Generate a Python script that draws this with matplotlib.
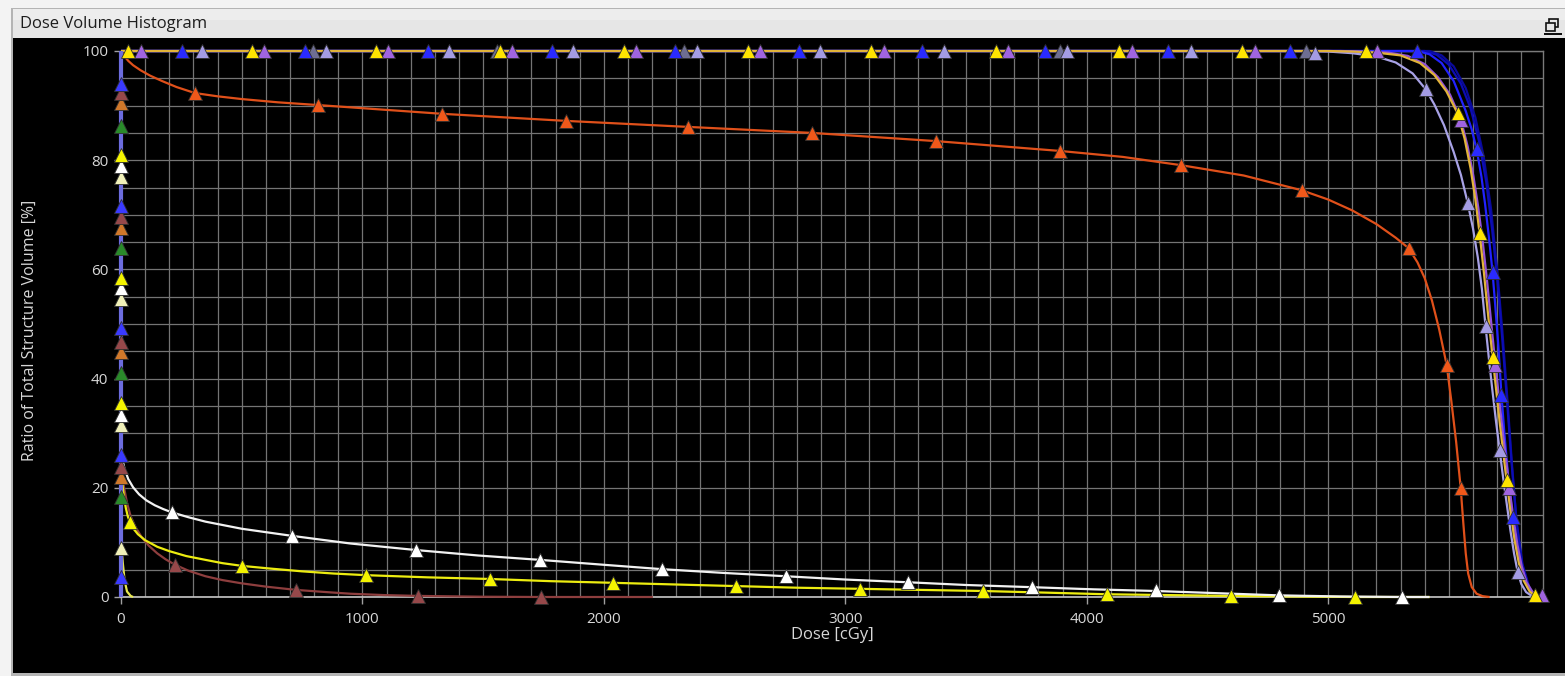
import matplotlib
matplotlib.use("Agg")
import matplotlib.pyplot as plt
from matplotlib.patches import Rectangle
from matplotlib.ticker import MultipleLocator

# ---------------- data (dose in cGy, volume in %) ----------------
x_ticks = [0, 1000, 2000, 3000, 4000, 5000]
y_ticks = [0, 20, 40, 60, 80, 100]

orange_dose = [0, 5, 15, 30, 50, 80, 120, 170, 230, 306, 400, 500, 650, 816, 1329, 1843,
               2348, 2861, 3375, 3888, 4150, 4389, 4650, 4890, 5000, 5100, 5200, 5280,
               5333, 5370, 5400, 5430, 5460, 5491, 5510, 5530, 5549, 5560, 5570, 5580,
               5595, 5615, 5640, 5669]
orange_vol = [100, 99.6, 99.0, 98.2, 97.4, 96.5, 95.5, 94.5, 93.4, 92.3, 91.7, 91.2, 90.6,
              90.1, 88.5, 87.2, 86.1, 85.0, 83.5, 81.7, 80.6, 79.1, 77.2, 74.5, 72.8, 70.8,
              68.3, 65.8, 63.9, 61.3, 58.4, 54.3, 49.0, 42.5, 36.0, 28.5, 20.0, 13.5, 8.0,
              4.3, 1.8, 0.6, 0.15, 0]
orange_mk_dose = [306, 816, 1329, 1843, 2348, 2861, 3375, 3888, 4389, 4890, 5333, 5491, 5549]
orange_mk_vol = [92.3, 90.1, 88.5, 87.2, 86.1, 85.0, 83.5, 81.7, 79.1, 74.5, 63.9, 42.5, 20.0]

gold_dose = [0, 5000, 5100, 5200, 5300, 5380, 5440, 5490, 5536, 5565, 5590, 5610, 5627,
             5645, 5663, 5681, 5697, 5712, 5726, 5739, 5755, 5772, 5790, 5810, 5835,
             5855, 5870]
gold_vol = [100, 100, 99.9, 99.7, 99.2, 97.8, 95.6, 92.6, 88.6, 84.0, 78.5, 72.8, 66.7,
            59.5, 51.5, 44.0, 37.5, 31.5, 26.2, 21.4, 15.8, 10.5, 6.2, 3.0, 1.0, 0.3, 0]
gold_mk_dose = [29, 543, 1056, 1570, 2083, 2597, 3106, 3623, 4133, 4642, 5155,
                5536, 5627, 5681, 5739, 5855]
gold_mk_vol = [100, 100, 100, 100, 100, 100, 100, 100, 100, 100, 100,
               88.6, 66.7, 44.0, 21.4, 0.4]

purple_dose = [0, 5050, 5150, 5250, 5330, 5400, 5455, 5505, 5550, 5578, 5602, 5622,
               5640, 5658, 5676, 5693, 5709, 5724, 5738, 5751, 5767, 5784, 5802, 5822,
               5847, 5867, 5884]
purple_vol = [100, 100, 99.9, 99.7, 99.1, 97.6, 95.2, 92.0, 87.4, 82.5, 77.0, 71.3, 65.2,
              58.0, 50.0, 42.5, 36.0, 30.0, 24.8, 20.0, 14.6, 9.6, 5.6, 2.7, 0.9, 0.3, 0]
purple_mk_dose = [83, 592, 1106, 1619, 2133, 2646, 3160, 3673, 4186, 4696, 5201,
                  5550, 5693, 5751, 5884]
purple_mk_vol = [100, 100, 100, 100, 100, 100, 100, 100, 100, 100, 100,
                 87.4, 42.5, 20.0, 0.4]

lavender_dose = [0, 4900, 5000, 5100, 5200, 5280, 5350, 5404, 5440, 5480, 5520, 5550,
                 5578, 5600, 5620, 5637, 5652, 5667, 5680, 5695, 5710, 5725, 5740, 5755,
                 5770, 5785, 5800, 5820, 5850]
lavender_vol = [100, 100, 99.9, 99.6, 99.0, 97.9, 95.9, 93.0, 90.2, 86.4, 81.5, 77.3,
                72.2, 67.5, 62.2, 56.4, 49.6, 43.2, 38.0, 32.3, 27.0, 21.8, 17.0, 12.2,
                8.0, 4.6, 2.4, 0.9, 0]
lavender_mk_dose = [335, 849, 1358, 1872, 2385, 2894, 3408, 3917, 4431, 4944,
                    5404, 5578, 5652, 5710, 5785]
lavender_mk_vol = [100, 100, 100, 100, 100, 100, 100, 100, 100, 99.6,
                   93.0, 72.2, 49.6, 27.0, 4.6]

blue_dose = [0, 5370, 5420, 5470, 5520, 5570, 5595, 5615, 5635, 5650, 5667, 5681, 5692,
             5705, 5718, 5730, 5745, 5764, 5780, 5800, 5825, 5850, 5870]
blue_vol = [100, 100, 99.4, 97.8, 94.5, 89.0, 85.6, 82.0, 77.0, 72.0, 65.5, 59.5, 53.5,
            46.0, 37.0, 30.0, 22.5, 14.6, 9.5, 5.0, 1.8, 0.3, 0]
blue_mk_dose = [253, 762, 1271, 1785, 2294, 2807, 3317, 3826, 4336, 4841,
                5370, 5615, 5681, 5718, 5764]
blue_mk_vol = [100, 100, 100, 100, 100, 100, 100, 100, 100, 100,
               100, 82.0, 59.5, 37.0, 14.6]

navy1_dose = [0, 5400, 5450, 5500, 5550, 5590, 5625, 5655, 5680, 5700, 5720, 5740, 5760,
              5780, 5805, 5835, 5865]
navy1_vol = [100, 100, 99.3, 97.5, 94.0, 89.5, 83.5, 76.0, 67.0, 58.5, 48.0, 36.5, 24.5,
             14.0, 6.0, 1.5, 0]
navy2_dose = [0, 5420, 5470, 5520, 5570, 5610, 5645, 5675, 5700, 5722, 5742, 5762, 5782,
              5805, 5830, 5860]
navy2_vol = [100, 100, 99.2, 97.2, 93.2, 87.8, 80.5, 71.0, 60.0, 48.5, 36.5, 24.0, 13.0,
             5.5, 1.5, 0]

gray_mk_dose = [795, 1557, 2331, 3888, 4907]
gray_mk_vol = [100, 100, 100, 100, 100]

white_dose = [0, 0, 5, 15, 30, 50, 75, 105, 140, 175, 211, 280, 350, 500, 708, 950, 1222,
              1480, 1735, 2000, 2240, 2500, 2754, 3000, 3259, 3500, 3772, 4030, 4286,
              4540, 4795, 5050, 5308, 5420]
white_vol = [100, 27.0, 25.3, 23.4, 21.6, 20.1, 18.8, 17.7, 16.8, 16.1, 15.5, 14.6, 13.8,
             12.5, 11.2, 9.8, 8.6, 7.6, 6.8, 5.9, 5.1, 4.4, 3.8, 3.2, 2.7, 2.2, 1.8, 1.4,
             1.1, 0.7, 0.3, 0.1, 0, 0]
white_mk_dose = [0, 0, 0, 211, 708, 1222, 1735, 2240, 2754, 3259, 3772, 4286, 4795, 5308]
white_mk_vol = [78.9, 56.6, 33.3, 15.5, 11.2, 8.6, 6.8, 5.1, 3.8, 2.7, 1.8, 1.2, 0.3, 0]

yellow_dose = [0, 0, 5, 12, 20, 28, 37, 50, 70, 100, 150, 200, 270, 350, 420, 501, 620,
               750, 880, 1014, 1270, 1528, 1780, 2037, 2290, 2547, 2800, 3060, 3310, 3569,
               3830, 4083, 4340, 4596, 4850, 5110, 5420]
yellow_vol = [100, 24.0, 21.0, 18.3, 16.3, 14.8, 13.7, 12.6, 11.5, 10.4, 9.2, 8.4, 7.5,
              6.8, 6.2, 5.7, 5.2, 4.7, 4.3, 4.0, 3.6, 3.3, 2.9, 2.6, 2.3, 2.0, 1.7, 1.5,
              1.3, 1.1, 0.8, 0.5, 0.35, 0.2, 0.1, 0, 0]
yellow_mk_dose = [0, 0, 0, 37, 501, 1014, 1528, 2037, 2547, 3060, 3569, 4083, 4596, 5110]
yellow_mk_vol = [81.0, 58.4, 35.5, 13.7, 5.7, 4.0, 3.3, 2.6, 2.0, 1.5, 1.1, 0.5, 0.2, 0]

brown_dose = [0, 0, 5, 12, 25, 40, 60, 85, 115, 150, 185, 224, 280, 350, 420, 500, 600,
              725, 850, 950, 1090, 1230, 1500, 1739, 2203]
brown_vol = [100, 24.5, 22.5, 20.2, 17.2, 14.8, 12.8, 11.0, 9.4, 8.0, 6.9, 5.9, 4.8, 3.8,
             3.1, 2.5, 1.9, 1.3, 0.9, 0.6, 0.35, 0.2, 0.05, 0, 0]
brown_mk_dose = [0, 0, 0, 0, 224, 725, 1230, 1739]
brown_mk_vol = [92.3, 69.6, 46.7, 23.8, 5.9, 1.3, 0.2, 0]

cream_dose = [0, 0, 8, 15, 25, 40, 50]
cream_vol = [100, 10.0, 6.0, 3.0, 1.0, 0.2, 0]
cream_mk_dose = [0, 0, 0, 0]
cream_mk_vol = [76.9, 54.6, 31.5, 9.0]

orange0_dose = [0, 0]
orange0_vol = [100, 0]
orange0_mk_dose = [0, 0, 0, 0]
orange0_mk_vol = [90.5, 67.6, 44.9, 22.0]

green_dose = [0, 0]
green_vol = [100, 0]
green_mk_dose = [0, 0, 0, 0]
green_mk_vol = [86.3, 63.9, 41.0, 18.3]

blue0_dose = [0, 0]
blue0_vol = [100, 0]
blue0_mk_dose = [0, 0, 0, 0, 0]
blue0_mk_vol = [94.0, 71.6, 49.3, 26.0, 3.7]

# ---------------- figure ----------------
W, H = 1565, 676
fig = plt.figure(figsize=(W / 100, H / 100), dpi=100, facecolor="#f3f3f3")


def px_rect(x0, y0, x1, y1, z=-10, **kw):
    fig.patches.append(Rectangle((x0 / W, 1 - y1 / H), (x1 - x0) / W, (y1 - y0) / H,
                                 transform=fig.transFigure, figure=fig, zorder=z, **kw))


px_rect(11, 8, 1566, 676, facecolor="#b4b4b4", edgecolor="none")
px_rect(13, 9, 1566, 38, facecolor="#e6e6e6", edgecolor="none")
px_rect(13, 9, 1566, 20, facecolor="#ededed", edgecolor="none")
px_rect(13, 38, 1566, 673, facecolor="#000000", edgecolor="none")
# restore icon
px_rect(1549, 19, 1558, 27, facecolor="none", edgecolor="#101010", linewidth=1.2)
px_rect(1546, 23, 1555, 31, z=-9, facecolor="#e6e6e6", edgecolor="#101010", linewidth=1.2)
px_rect(1544, 33, 1562, 34.5, facecolor="#101010", edgecolor="none")

fig.text(20 / W, 1 - 24 / H, "Dose Volume Histogram", ha="left", va="center",
         fontsize=12, color="#1c1c1c", family="Open Sans")

ax = fig.add_axes([121 / W, 1 - 597 / H, (1543 - 121) / W, (597 - 51) / H])
ax.set_zorder(2)
ax.set_facecolor("black")
ax.set_xlim(0, 5890)
ax.set_ylim(0, 100)
ax.xaxis.set_major_locator(MultipleLocator(1000))
ax.xaxis.set_minor_locator(MultipleLocator(100))
ax.yaxis.set_major_locator(MultipleLocator(20))
ax.yaxis.set_minor_locator(MultipleLocator(5))
ax.set_xticks(x_ticks)
ax.set_yticks(y_ticks)
ax.grid(True, which="both", color="#747474", linewidth=0.9, zorder=0)
ax.set_axisbelow(True)
ax.tick_params(which="major", direction="out", length=5, width=1, color="#a0a0a0",
               labelcolor="#d8d8d8", labelsize=11, pad=4)
ax.tick_params(axis="x", which="major", pad=6)
ax.tick_params(which="minor", length=0)
for lab in ax.get_xticklabels() + ax.get_yticklabels():
    lab.set_family("Open Sans")
for side in ["top", "right", "left"]:
    ax.spines[side].set_color("#7a7a7a")
    ax.spines[side].set_linewidth(1)
ax.spines["bottom"].set_color("#c8c8c8")
ax.spines["bottom"].set_linewidth(1.2)

ax.set_xlabel("Dose [cGy]", color="#d8d8d8", fontsize=12, family="Open Sans", labelpad=0)
fig.text(30 / W, 1 - 330 / H, "Ratio of Total Structure Volume [%]", rotation=90,
         ha="center", va="center", color="#d8d8d8", fontsize=11.5, family="Open Sans")

# ---------------- curves ----------------
LW = 1.6
curves = [
    (orange0_dose, orange0_vol, "#d07a2a"),
    (green_dose, green_vol, "#2a8a2a"),
    (brown_dose, brown_vol, "#8e3e3e"),
    (cream_dose, cream_vol, "#e8e850"),
    (yellow_dose, yellow_vol, "#ecec10"),
    (white_dose, white_vol, "#f2f2f2"),
    (orange_dose, orange_vol, "#e0501a"),
    (navy2_dose, navy2_vol, "#0a0a9a"),
    (navy1_dose, navy1_vol, "#0c0cb4"),
    (blue_dose, blue_vol, "#2222ff"),
    (lavender_dose, lavender_vol, "#a8a2e6"),
    (purple_dose, purple_vol, "#9452d6"),
    (gold_dose, gold_vol, "#e2b43a"),
    (blue0_dose, blue0_vol, "#6c6cde"),
]
for d, v, c in curves:
    lw = 3.0 if c == "#6c6cde" else LW
    ax.plot(d, v, color=c, linewidth=lw, zorder=3, clip_on=False, solid_capstyle="butt",
            solid_joinstyle="round")

markers = [
    (gray_mk_dose, gray_mk_vol, "#6e6e92"),
    (orange0_mk_dose, orange0_mk_vol, "#d0782a"),
    (green_mk_dose, green_mk_vol, "#2a8a2a"),
    (brown_mk_dose, brown_mk_vol, "#96484a"),
    (cream_mk_dose, cream_mk_vol, "#f0f0b8"),
    (white_mk_dose, white_mk_vol, "#ffffff"),
    (yellow_mk_dose, yellow_mk_vol, "#f4f400"),
    (orange_mk_dose, orange_mk_vol, "#f0581a"),
    (blue_mk_dose, blue_mk_vol, "#2a2aff"),
    (blue0_mk_dose, blue0_mk_vol, "#3a3aff"),
    (lavender_mk_dose, lavender_mk_vol, "#a49ce4"),
    (purple_mk_dose, purple_mk_vol, "#a064e0"),
    (gold_mk_dose, gold_mk_vol, "#ffe400"),
]
for d, v, c in markers:
    ax.plot(d, v, linestyle="none", marker="^", markersize=9.5, markerfacecolor=c,
            markeredgecolor="#303030", markeredgewidth=0.6, zorder=4, clip_on=False)

fig.savefig("out.png", dpi=100, facecolor=fig.get_facecolor())
